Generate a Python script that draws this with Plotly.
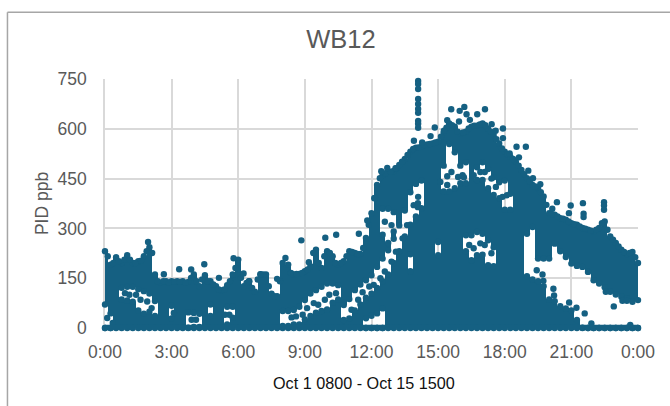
import plotly.graph_objects as go

hours = [i * 0.25 for i in range(97)]
top_ppb = [
    240, 200, 222, 205, 228, 205, 210, 225, 252, 170, 145, 150,
    150, 150, 150, 148, 170, 135, 168, 150, 135, 122, 138, 170,
    215, 135, 150, 118, 170, 170, 112, 105, 205, 200, 170, 172,
    180, 195, 245, 190, 240, 225, 200, 210, 240, 235, 232, 280,
    355, 440, 470, 480, 482, 500, 518, 540, 552, 555, 562, 565,
    570, 598, 625, 615, 595, 600, 615, 618, 625, 610, 590, 565,
    540, 525, 510, 485, 460, 440, 430, 405, 355, 350, 340, 335,
    325, 320, 310, 305, 300, 310, 330, 285, 265, 245, 232, 238,
    205,
]
mid_hours = [0.125 + i * 0.25 for i in range(96)]
top_mid_ppb = [
    225, 205, 210, 215, 215, 205, 212, 240, 235, 150, 150, 145,
    148, 148, 145, 160, 150, 155, 150, 140, 125, 125, 150, 190,
    160, 145, 130, 155, 170, 135, 105, 150, 220, 175, 172, 175,
    185, 235, 205, 225, 235, 205, 205, 225, 238, 232, 250, 320,
    400, 460, 475, 480, 490, 510, 530, 548, 553, 560, 563, 568,
    585, 612, 620, 600, 598, 610, 618, 622, 620, 600, 578, 550,
    532, 518, 498, 472, 450, 435, 418, 380, 352, 345, 338, 330,
    322, 315, 308, 302, 305, 325, 305, 275, 255, 238, 235, 222,
]

gap_hour = [
    0, 0.25, 0.75, 1, 1.25, 1.5, 1.75, 2, 2.25, 3, 3.75, 4, 4.25, 4.75, 5.5, 5.75,
    8, 8.25, 8.5, 8.75, 9, 9.25, 9.5, 9.75, 10, 10.25, 10.5,
    10.75, 11, 11.25, 11.5, 11.75, 12, 12.25, 12.5, 12.75, 13, 13.25, 13.5, 13.75, 14, 14.25,
    11.75, 12, 12.25, 12.5, 12.5, 12.75, 13,
    15.25, 15.5, 15.75, 16, 16.25, 16.75, 17, 17.25, 17.5, 17.75, 18, 18.25,
    16.25, 16.5, 16.75, 17, 17.25, 17.5, 15, 13.75,
    19, 19.25, 19.5, 19.75, 20, 20.25, 20.5, 20.75, 21, 21.25, 21.5, 21.75, 22, 22.25,
    22.5, 22.75, 23, 23.25, 23.5, 23.75, 24,
]
gap_low = [
    0, 0, 95, 92, 88, 62, 52, 58, 45, 38, 10, 12, 12, 45, 20, 40,
    15, 15, 20, 20, 35, 45, 55, 60, 65, 85, 95,
    33, 38, 62, 80, 100, 112, 130, 150, 170, 205, 240, 285, 320, 345, 370,
    8, 8, 8, 8, 290, 265, 300,
    420, 420, 430, 445, 445, 455, 455, 430, 410, 400, 365, 365,
    240, 213, 228, 230, 198, 195, 228, 180,
    165, 155, 150, 135, 95, 90, 75, 68, 62, 33, 10, 3, 3, 3,
    3, 3, 3, 3, 3, 3, 3,
]
gap_high = [
    62, 35, 112, 115, 115, 108, 102, 95, 72, 58, 38, 36, 34, 62, 55, 55,
    42, 42, 45, 55, 75, 95, 105, 115, 125, 125, 120,
    60, 78, 105, 122, 135, 150, 175, 200, 225, 260, 300, 345, 400, 425, 435,
    20, 28, 35, 50, 350, 350, 340,
    480, 545, 520, 480, 490, 475, 490, 470, 445, 430, 435, 395,
    270, 270, 280, 275, 255, 234, 250, 213,
    275, 295, 200, 200, 200, 245, 222, 205, 185, 178, 175, 160, 135, 125,
    114, 100, 92, 85, 80, 70, 75,
]

out_hour = [
    14.1, 14.1, 14.1, 14.1, 14.1, 14.1, 14.1, 14.1, 14.1, 14.1,
    15.59, 15.97, 16.18, 16.28, 16.76, 17.11, 16.43, 15.94, 15.41, 14.85, 15.26, 17.41,
    17.59, 17.92, 17.92, 14.66, 14.28, 13.91, 18.53, 18.95, 18.64, 18.22, 19.06, 19.27,
    19.6, 12.71, 12.44, 13.08, 12.15, 11.81, 11.43, 10.41, 20.35, 20.97, 20.89, 21.52,
    21.55, 21.55, 22.47, 22.47, 22.47, 20.14, 15.41, 15.41, 14.09, 14.09, 16.16,
    1.94, 3.34, 3.88, 4.47, 5.13, 5.79, 6.24, 6.48, 7.75, 2.65, 7.0,
    8.84, 9.92, 9.18,
    22.55, 22.91, 23.3, 23.5, 21.9, 23.65, 21.6, 21.23, 20.9, 20.19, 19.44, 19.7, 19.74, 20.22,
]
out_ppb = [
    744, 735, 720, 690, 675, 660, 648, 624, 615, 603,
    659, 654, 666, 644, 644, 659, 627, 622, 626, 604, 594, 614,
    594, 601, 572, 578, 559, 564, 546, 546, 514, 526, 474, 451,
    433, 482, 472, 481, 392, 324, 284, 281, 379, 369, 346, 376,
    344, 334, 379, 369, 356, 359, 457, 431, 376, 364, 454,
    259, 177, 176, 192, 151, 210, 164, 141, 148, 162, 162,
    264, 272, 198,
    109, 65, 82, 82, 14, 9, 44, 61, 77, 118, 174, 161, 142, 98,
]

# dots that fringe and bridge the white channels inside the mass
fringe_hour = [
    8.4, 8.6, 8.9, 9.1, 9.4, 9.6, 9.9, 10.1, 10.4,
    11.1, 11.4, 11.6, 11.9, 12.1, 12.4, 12.6, 12.9, 13.1, 13.4, 13.6, 13.9, 14.1,
    12.6, 12.9,
    15.1, 15.6, 15.9, 16.1, 16.6, 16.9, 17.1, 17.4, 17.6, 17.9, 18.1,
    16.4, 16.6, 16.9, 17.1, 17.4,
    0.9, 1.1, 1.4, 1.6, 1.9, 2.1, 3.9, 4.1, 3.1, 5.6, 5.4, 0.1, 0.35,
]
fringe_ppb = [
    32, 35, 40, 60, 75, 70, 85, 100, 105,
    55, 85, 108, 125, 130, 150, 170, 200, 230, 270, 310, 370, 395,
    320, 310,
    440, 470, 455, 460, 460, 470, 470, 450, 425, 395, 400,
    250, 240, 255, 250, 225,
    105, 100, 100, 85, 80, 60, 25, 25, 45, 40, 40, 30, 15,
]

tick_hours = [0, 3, 6, 9, 12, 15, 18, 21, 24]
tick_labels = ["0:00", "3:00", "6:00", "9:00", "12:00", "15:00", "18:00", "21:00", "0:00"]
y_ticks = [0, 150, 300, 450, 600, 750]

COLOR = "#156082"
MARKER_PX = 6.4
R = 9  # marker radius in ppb: the dots reach this far past their centres

bar_x, bar_base, bar_h, dot_x, dot_y = [], [], [], [], []
for h, top in zip(hours, top_ppb):
    holes = sorted((lo, hi) for gh, lo, hi in zip(gap_hour, gap_low, gap_high) if gh == h)
    start = 0
    spans = []
    for lo, hi in holes:
        end = max(lo - R, 0)
        if end >= start:
            spans.append((start, end))
        start = hi + R
    spans.append((start, top - R))
    for a, b in spans:
        bar_x.append(h)
        bar_base.append(a)
        bar_h.append(b - a)
        dot_x += [h, h]
        dot_y += [a, b]

dot_x += mid_hours + out_hour + fringe_hour
dot_y += [v - R for v in top_mid_ppb] + out_ppb + fringe_ppb

fig = go.Figure()
fig.add_trace(go.Bar(x=bar_x, y=bar_h, base=bar_base, width=0.25, marker=dict(color=COLOR, line=dict(width=0)),
                     cliponaxis=False, hoverinfo="skip"))
fig.add_trace(go.Scatter(x=dot_x, y=dot_y, mode="markers", marker=dict(color=COLOR, size=MARKER_PX, line=dict(width=0)),
                         cliponaxis=False))
fig.add_trace(go.Scatter(x=hours, y=[0] * len(hours), mode="lines", line=dict(color=COLOR, width=6.4),
                         cliponaxis=False))

FONT = "Liberation Sans, Arial, sans-serif"
fig.update_layout(
    width=670, height=406, autosize=False, showlegend=False, barmode="overlay", bargap=0,
    paper_bgcolor="white", plot_bgcolor="white",
    margin=dict(l=104.5, r=32, t=78.5, b=78),
    font=dict(family=FONT),
    title=dict(text="WB12", x=0.509, xref="container", y=0.904, yref="container", xanchor="center", yanchor="middle",
               font=dict(family=FONT, size=25.5, color="#595959")),
    xaxis=dict(range=[0, 24], tickmode="array", tickvals=tick_hours, ticktext=tick_labels, layer="below traces",
               showgrid=True, gridcolor="#d9d9d9", gridwidth=1.6, showline=True, linecolor="#d9d9d9", linewidth=1.6,
               ticks="", zeroline=False, tickfont=dict(size=17.5, color="#595959"), ticklabelstandoff=7),
    yaxis=dict(range=[0, 750], tickmode="array", tickvals=y_ticks, layer="below traces",
               showgrid=True, gridcolor="#d9d9d9", gridwidth=1.6, showline=True, linecolor="#d9d9d9", linewidth=1.6,
               ticks="", zeroline=False, tickfont=dict(size=17.5, color="#595959"), ticklabelstandoff=13,
               title=dict(text="PID ppb", font=dict(size=17.5, color="#595959"), standoff=4)),
    annotations=[
        dict(text="Oct 1 0800 - Oct 15 1500", xref="paper", yref="paper", x=0.4864, y=-0.22,
             xanchor="center", yanchor="middle", showarrow=False, font=dict(size=16.2, color="#111111")),
    ],
    shapes=[
        dict(type="line", xref="paper", yref="paper", x0=-0.183, x1=1.06, y0=1.268, y1=1.268,
             line=dict(color="#a6a6a6", width=1.5)),
        dict(type="line", xref="paper", yref="paper", x0=-0.183, x1=-0.183, y0=1.268, y1=-0.32,
             line=dict(color="#a6a6a6", width=1.5)),
    ],
)
fig.write_html("out.html", post_script="document.body.style.margin='0';", config={"displayModeBar": False})
